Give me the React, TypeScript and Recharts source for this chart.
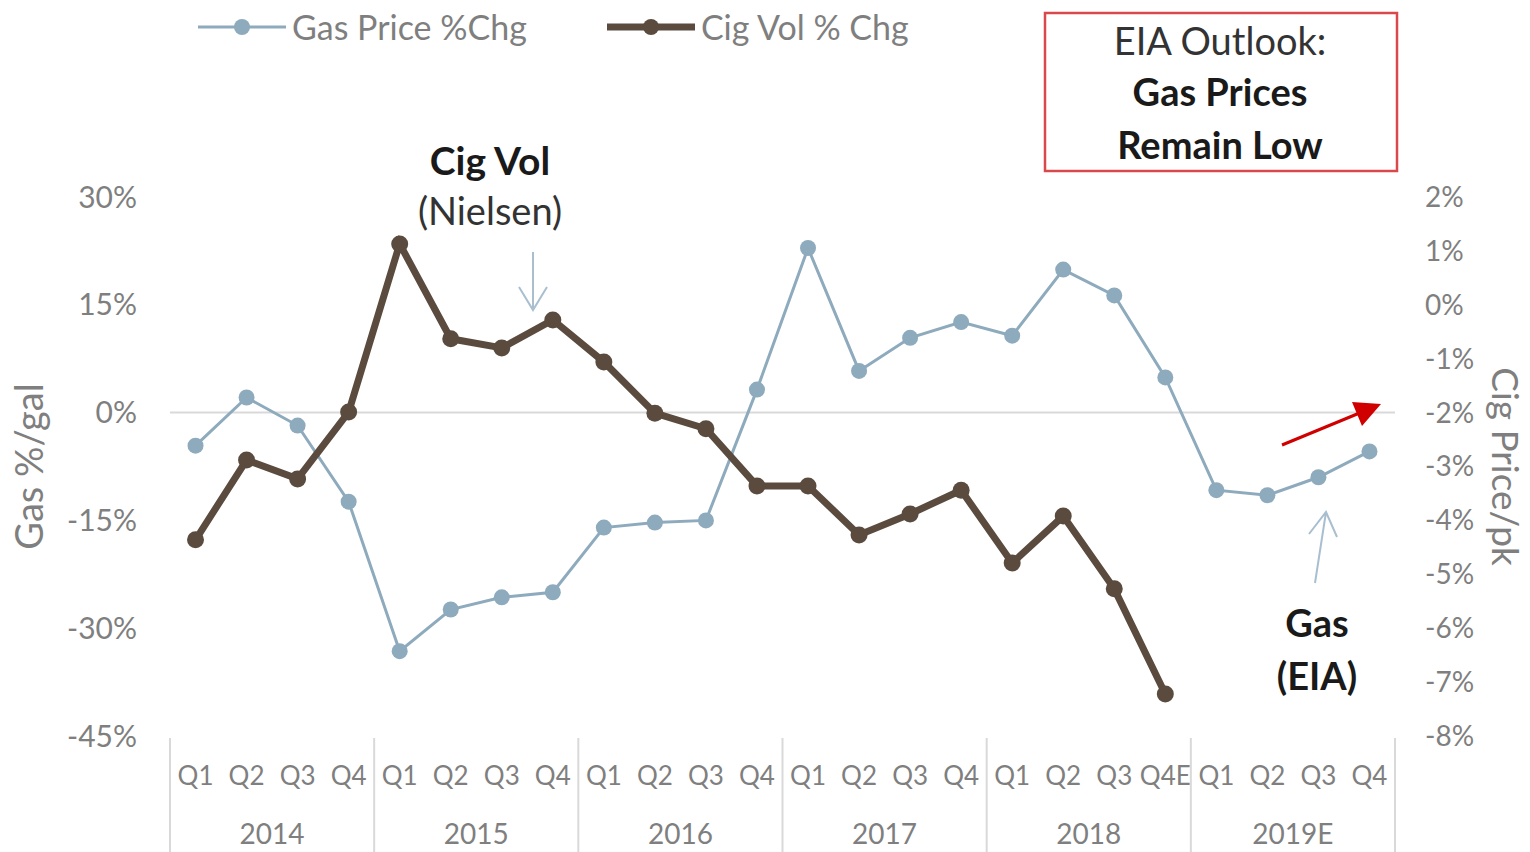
import React from 'react';
import { ComposedChart, Line, XAxis, YAxis, ReferenceLine, Legend } from 'recharts';

const quarters = ['Q1','Q2','Q3','Q4','Q1','Q2','Q3','Q4','Q1','Q2','Q3','Q4','Q1','Q2','Q3','Q4','Q1','Q2','Q3','Q4E','Q1','Q2','Q3','Q4'];
const yearLabels = ['2014','2015','2016','2017','2018','2019E'];
const gasPrice = [-4.6, 2.1, -1.8, -12.4, -33.2, -27.4, -25.7, -25.0, -16.0, -15.3, -15.0, 3.2, 22.9, 5.8, 10.4, 12.6, 10.7, 19.9, 16.3, 4.9, -10.8, -11.5, -9.0, -5.4];
const cigVol = [-4.36, -2.88, -3.23, -1.99, 1.13, -0.63, -0.80, -0.28, -1.06, -2.01, -2.30, -3.36, -3.36, -4.27, -3.88, -3.44, -4.79, -3.92, -5.27, -7.22, null, null, null, null];
const leftTicks = [30, 15, 0, -15, -30, -45];
const rightTicks = [2, 1, 0, -1, -2, -3, -4, -5, -6, -7, -8];
const seriesOrder = ['Gas Price %Chg', 'Cig Vol % Chg'];

const data = quarters.map((q, i) => ({
  id: `${yearLabels[Math.floor(i / 4)]}-${q}-${i}`,
  quarter: q,
  gas: gasPrice[i],
  cig: cigVol[i],
}));

const FONT = 'Lato, "Liberation Sans", sans-serif';
const GAS = '#8eaabd';
const CIG = '#5a4b3e';
const TXT = '#7f7f7f';
const SEP = '#d9d9d9';
const PLOT_W = 1225;
const N = quarters.length;

const XTick = (props: any) => {
  const { x, y, payload, index } = props;
  const i = payload?.index ?? index;
  const half = PLOT_W / N / 2;
  const els: any[] = [];
  els.push(
    <text key="q" x={x} y={y + 39} textAnchor="middle" dominantBaseline="central" fill={TXT} fontSize={26} fontFamily={FONT}>
      {quarters[i]}
    </text>
  );
  if (i % 4 === 0) {
    els.push(<line key="s" x1={x - half} x2={x - half} y1={y + 2} y2={y + 120} stroke={SEP} strokeWidth={2} />);
  }
  if (i === N - 1) {
    els.push(<line key="e" x1={x + half} x2={x + half} y1={y + 2} y2={y + 120} stroke={SEP} strokeWidth={2} />);
  }
  if (i % 4 === 1) {
    els.push(
      <text key="y" x={x + half} y={y + 97} textAnchor="middle" dominantBaseline="central" fill={TXT} fontSize={28} fontFamily={FONT}>
        {yearLabels[Math.floor(i / 4)]}
      </text>
    );
  }
  return <g>{els}</g>;
};

const LegendContent = (props: any) => {
  const items = [...(props.payload || [])].sort(
    (a: any, b: any) => seriesOrder.indexOf(a.value) - seriesOrder.indexOf(b.value)
  );
  return (
    <div style={{ display: 'flex', alignItems: 'center', fontFamily: FONT, whiteSpace: 'nowrap' }}>
      {items.map((p: any, k: number) => {
        const thick = p.dataKey === 'cig';
        return (
          <div key={k} style={{ display: 'flex', alignItems: 'center', marginRight: k === 0 ? 80 : 0 }}>
            <svg width={88} height={20} style={{ marginRight: 6 }}>
              <line x1={0} x2={88} y1={10} y2={10} stroke={p.color} strokeWidth={thick ? 7 : 3} />
              <circle cx={44} cy={10} r={8} fill={p.color} />
            </svg>
            <span style={{ color: TXT, fontSize: 34 }}>{p.value}</span>
          </div>
        );
      })}
    </div>
  );
};

export default function App() {
  return (
    <div style={{ position: 'absolute', left: 0, top: 0, width: 1530, height: 852, background: '#fff' }}>
      <ComposedChart width={1530} height={852} data={data} margin={{ top: 197, right: 35, bottom: 0, left: 80 }}>
        <XAxis dataKey="id" scale="band" interval={0} axisLine={false} tickLine={false} tickSize={0} tickMargin={0} height={116} tick={<XTick />} />
        <YAxis
          yAxisId="left"
          orientation="left"
          width={90}
          domain={[-45, 30]}
          ticks={leftTicks}
          axisLine={false}
          tickLine={false}
          tickSize={0}
          tickMargin={33}
          tickFormatter={(v: number) => `${v}%`}
          tick={{ fill: TXT, fontSize: 30, fontFamily: FONT }}
          label={{ value: 'Gas %/gal', angle: -90, position: 'insideLeft', offset: -50, fill: TXT, fontSize: 38, fontFamily: FONT, style: { textAnchor: 'middle' } }}
        />
        <YAxis
          yAxisId="right"
          orientation="right"
          width={100}
          domain={[-8, 2]}
          ticks={rightTicks}
          axisLine={false}
          tickLine={false}
          tickSize={0}
          tickMargin={30}
          tickFormatter={(v: number) => `${v}%`}
          tick={{ fill: TXT, fontSize: 28, fontFamily: FONT }}
          label={{ value: 'Cig Price/pk', angle: 90, position: 'insideRight', offset: -10, fill: TXT, fontSize: 37, fontFamily: FONT, style: { textAnchor: 'middle' } }}
        />
        <ReferenceLine yAxisId="left" y={0} stroke={SEP} strokeWidth={2} />
        <Legend verticalAlign="middle" align="center" layout="horizontal" wrapperStyle={{ top: 6, left: 198, width: 'auto', height: 'auto' }} content={<LegendContent />} />
        <Line yAxisId="left" type="linear" dataKey="gas" name="Gas Price %Chg" stroke={GAS} strokeWidth={3} dot={{ r: 8, fill: GAS, stroke: GAS, strokeWidth: 0 }} isAnimationActive={false} />
        <Line yAxisId="right" type="linear" dataKey="cig" name="Cig Vol % Chg" stroke={CIG} strokeWidth={7} dot={{ r: 8.5, fill: CIG, stroke: CIG, strokeWidth: 0 }} connectNulls={false} isAnimationActive={false} />
      </ComposedChart>
      <svg width={1530} height={852} style={{ position: 'absolute', left: 0, top: 0, pointerEvents: 'none' }}>
        <rect x={1045} y={13} width={352} height={158} fill="none" stroke="#d9484a" strokeWidth={2.5} />
        <text x={1220} y={40} textAnchor="middle" dominantBaseline="central" fill="#333" fontSize={38} fontFamily={FONT}>EIA Outlook:</text>
        <text x={1220} y={91} textAnchor="middle" dominantBaseline="central" fill="#1a1a1a" fontSize={38} fontWeight="bold" fontFamily={FONT}>Gas Prices</text>
        <text x={1220} y={144} textAnchor="middle" dominantBaseline="central" fill="#1a1a1a" fontSize={38} fontWeight="bold" fontFamily={FONT}>Remain Low</text>

        <text x={490} y={160} textAnchor="middle" dominantBaseline="central" fill="#1a1a1a" fontSize={39} fontWeight="bold" fontFamily={FONT}>Cig Vol</text>
        <text x={490} y={210} textAnchor="middle" dominantBaseline="central" fill="#333" fontSize={38} fontFamily={FONT}>(Nielsen)</text>
        <path d="M533,252 L533,310 M519,287 L533,310 L547,287" fill="none" stroke="#a9bfcf" strokeWidth={2} />

        <text x={1317} y={622} textAnchor="middle" dominantBaseline="central" fill="#1a1a1a" fontSize={38} fontWeight="bold" fontFamily={FONT}>Gas</text>
        <text x={1317} y={675} textAnchor="middle" dominantBaseline="central" fill="#1a1a1a" fontSize={38} fontWeight="bold" fontFamily={FONT}>(EIA)</text>
        <path d="M1315,583 L1326,512 M1309,534 L1326,512 L1337,537" fill="none" stroke="#a9bfcf" strokeWidth={2} />

        <line x1={1282} y1={445} x2={1362} y2={412} stroke="#d00000" strokeWidth={3} />
        <path d="M1352,402 L1381,404 L1362,426 z" fill="#d00000" />
      </svg>
    </div>
  );
}
